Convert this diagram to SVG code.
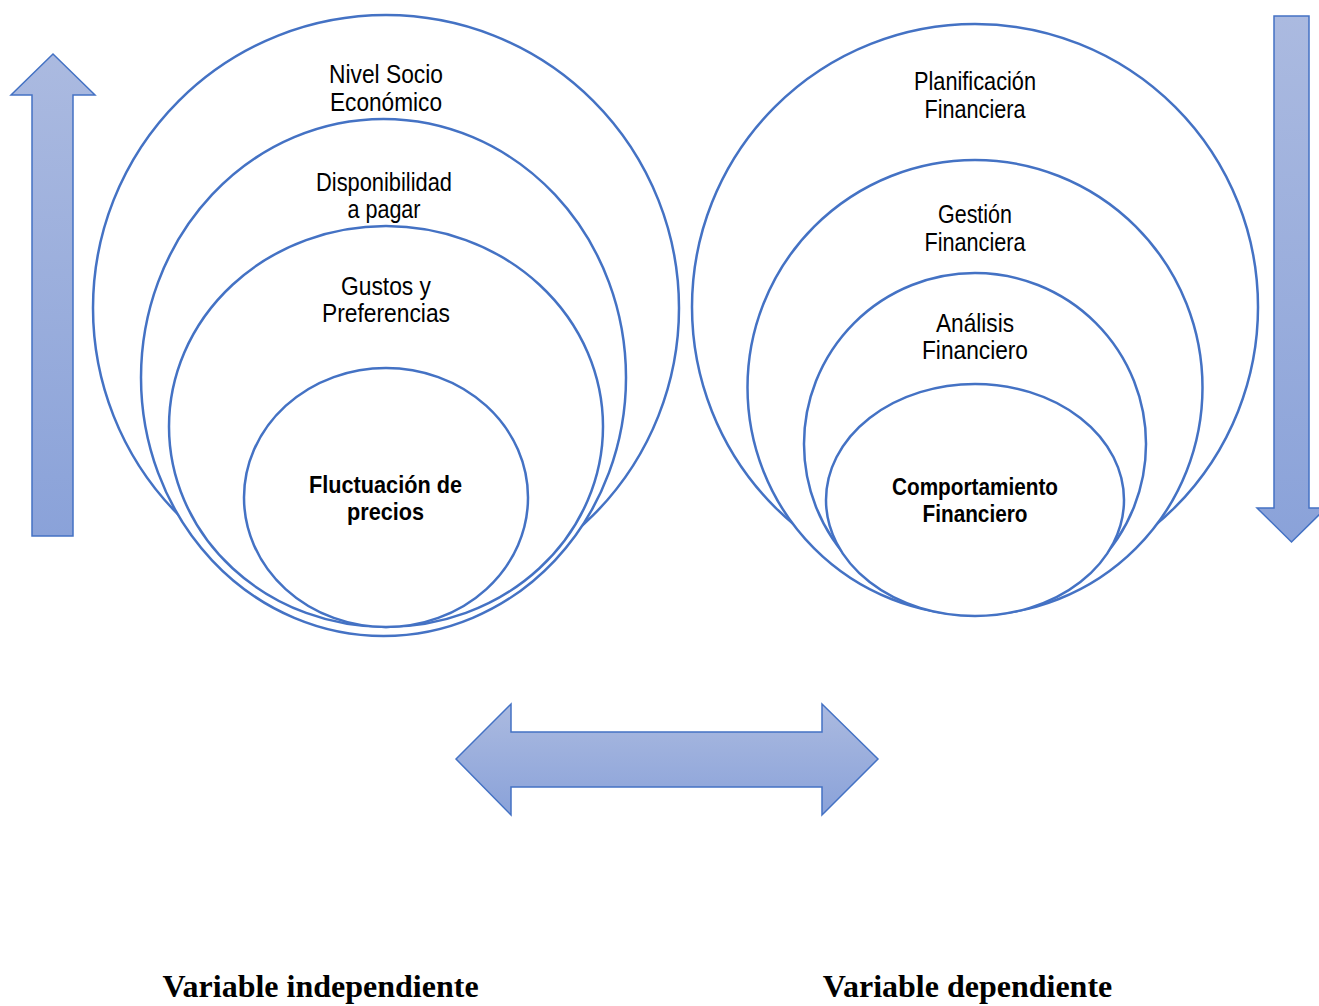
<svg xmlns="http://www.w3.org/2000/svg" width="1319" height="1006" viewBox="0 0 1319 1006">
  <defs>
    <linearGradient id="arrowFill" x1="0" y1="0" x2="0" y2="1">
      <stop offset="0" stop-color="#abbae0"/>
      <stop offset="1" stop-color="#8aa2d9"/>
    </linearGradient>
    <style>
      .ring { fill: #ffffff; stroke: #4472c4; stroke-width: 2.5; }
      .arrow { fill: url(#arrowFill); stroke: #4472c4; stroke-width: 1.5; stroke-linejoin: miter; }
      .lbl { font-family: "Liberation Sans Narrow", "Liberation Sans", Arial, sans-serif; font-size: 25px; fill: #000000; text-anchor: middle; }
      .lbl-b { font-family: "Liberation Sans Narrow", "Liberation Sans", Arial, sans-serif; font-size: 24px; font-weight: bold; fill: #000000; text-anchor: middle; }
      .cap { font-family: "Liberation Serif", "Times New Roman", serif; font-size: 32px; font-weight: bold; fill: #000000; text-anchor: middle; }
    </style>
  </defs>

  <!-- direction arrows -->
  <g id="connectors">
    <polygon id="arrow-up" class="arrow" points="53,54 95,95 73,95 73,536 32,536 32,95 11,95"/>
    <polygon id="arrow-down" class="arrow" points="1274,16 1309,16 1309,508 1326,508 1291.5,542 1257,508 1274,508"/>
    <polygon id="arrow-both" class="arrow" points="456,759 511,704 511,732 822,732 822,704 878,759 822,815 822,787 511,787 511,815"/>
  </g>

  <!-- independent variable: nested rings -->
  <g id="node-nivel">
    <circle class="ring" cx="386" cy="308" r="293"/>
    <text class="lbl" x="386" y="83" textLength="114" lengthAdjust="spacingAndGlyphs">Nivel Socio</text>
    <text class="lbl" x="386" y="111" textLength="112" lengthAdjust="spacingAndGlyphs">Económico</text>
  </g>
  <g id="node-disponibilidad">
    <ellipse class="ring" cx="383.5" cy="377.5" rx="242.5" ry="258.5"/>
    <text class="lbl" x="384" y="191" textLength="136" lengthAdjust="spacingAndGlyphs">Disponibilidad</text>
    <text class="lbl" x="384" y="218" textLength="73" lengthAdjust="spacingAndGlyphs">a pagar</text>
  </g>
  <g id="node-gustos">
    <ellipse class="ring" cx="386" cy="426.5" rx="217" ry="200.5"/>
    <text class="lbl" x="386" y="295" textLength="90" lengthAdjust="spacingAndGlyphs">Gustos y</text>
    <text class="lbl" x="386" y="322" textLength="128" lengthAdjust="spacingAndGlyphs">Preferencias</text>
  </g>
  <g id="node-fluctuacion">
    <ellipse class="ring" cx="386" cy="497.5" rx="142" ry="129.5"/>
    <text class="lbl-b" x="385.5" y="493" textLength="153" lengthAdjust="spacingAndGlyphs">Fluctuación de</text>
    <text class="lbl-b" x="385.5" y="520" textLength="77" lengthAdjust="spacingAndGlyphs">precios</text>
  </g>

  <!-- dependent variable: nested rings -->
  <g id="node-planificacion">
    <circle class="ring" cx="975" cy="307" r="283"/>
    <text class="lbl" x="975" y="90" textLength="122" lengthAdjust="spacingAndGlyphs">Planificación</text>
    <text class="lbl" x="975" y="118" textLength="101" lengthAdjust="spacingAndGlyphs">Financiera</text>
  </g>
  <g id="node-gestion">
    <circle class="ring" cx="975" cy="387.5" r="227.5"/>
    <text class="lbl" x="975" y="223" textLength="74" lengthAdjust="spacingAndGlyphs">Gestión</text>
    <text class="lbl" x="975" y="251" textLength="101" lengthAdjust="spacingAndGlyphs">Financiera</text>
  </g>
  <g id="node-analisis">
    <circle class="ring" cx="975" cy="444" r="171"/>
    <text class="lbl" x="975" y="332" textLength="78" lengthAdjust="spacingAndGlyphs">Análisis</text>
    <text class="lbl" x="975" y="359" textLength="106" lengthAdjust="spacingAndGlyphs">Financiero</text>
  </g>
  <g id="node-comportamiento">
    <ellipse class="ring" cx="975" cy="500" rx="149" ry="116"/>
    <text class="lbl-b" x="975" y="495" textLength="166" lengthAdjust="spacingAndGlyphs">Comportamiento</text>
    <text class="lbl-b" x="975" y="522" textLength="105" lengthAdjust="spacingAndGlyphs">Financiero</text>
  </g>

  <!-- captions -->
  <g id="captions">
    <text class="cap" x="320.5" y="997">Variable independiente</text>
    <text class="cap" x="967.5" y="997">Variable dependiente</text>
  </g>
</svg>
